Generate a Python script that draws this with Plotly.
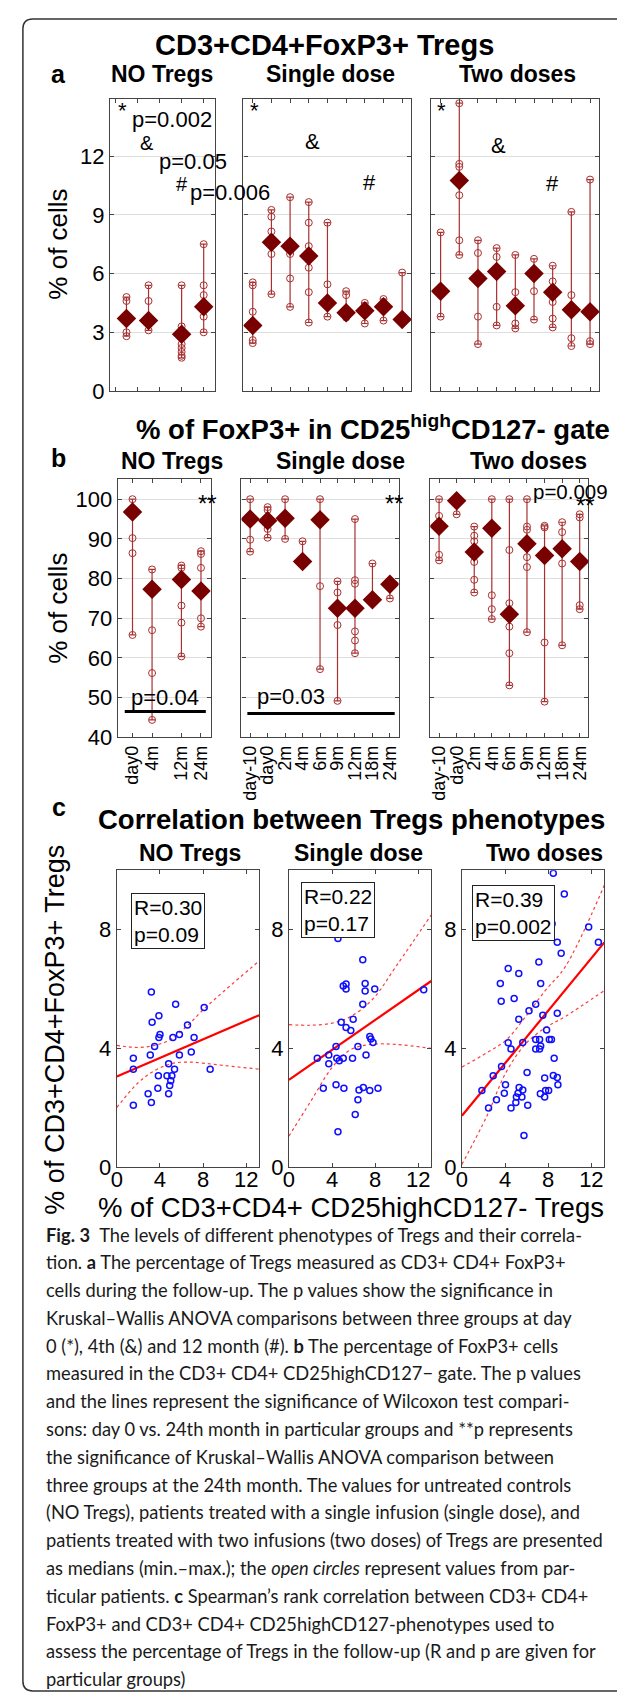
import plotly.graph_objects as go

W, H = 625, 1698

# ---------------- data ----------------
TIMELINE = ["day-10", "day0", "2m", "4m", "6m", "9m", "12m", "18m", "24m"]
NO_TIMES = ["day0", "4m", "12m", "24m"]
GROUP_TITLES = ["NO Tregs", "Single dose", "Two doses"]

# Panel a: % CD3+CD4+FoxP3+ (medians + individual patients)
A_NO_MED = [3.7, 3.6, 2.9, 4.3]
A_NO_PTS = [[4.8, 4.6, 3.0, 2.8], [5.4, 4.6, 3.1], [5.4, 3.3, 2.4, 2.2, 2.0, 1.8, 1.7],
            [7.5, 5.4, 4.9, 3.8, 3.0]]
A_SD_MED = [3.35, 7.6, 7.4, 6.9, 4.5, 4.0, 4.1, 4.3, 3.65]
A_SD_PTS = [[5.55, 5.4, 4.05, 2.6, 2.45], [9.25, 8.9, 8.15, 7.0, 4.95], [9.9, 7.0, 5.75, 4.3],
            [9.65, 8.6, 7.4, 6.3, 5.05, 3.5], [8.6, 5.45, 3.8], [5.1, 4.9, 3.75], [4.5, 3.45],
            [4.7, 3.6], [6.05, 3.5]]
A_TD_MED = [5.1, 10.75, 5.75, 6.1, 4.35, 6.0, 5.05, 4.15, 4.05]
A_TD_PTS = [[8.1, 3.8], [14.7, 11.6, 11.45, 10.0, 7.7, 6.95], [7.7, 7.05, 3.8, 2.4],
            [7.3, 6.85, 4.3, 3.35], [6.95, 5.05, 3.45, 3.2], [6.75, 5.1, 3.65],
            [6.4, 5.6, 4.55, 3.7, 3.25], [9.15, 4.9, 2.7, 2.3], [10.8, 2.55, 2.4]]

# Panel b: % FoxP3+ in CD25highCD127- gate
B_NO_MED = [96.8, 77.3, 79.8, 76.9]
B_NO_PTS = [[100, 90.2, 86.4, 65.8], [82.3, 67.0, 56.2, 44.4], [83.3, 82.7, 73.2, 68.9, 60.4],
            [86.9, 86.2, 82.7, 70.0, 67.9]]
B_SD_MED = [95.0, 94.6, 95.2, 84.3, 94.8, 72.5, 72.5, 74.7, 78.6]
B_SD_PTS = [[100, 89.8, 86.8], [98.0, 97.3, 92.5, 90.3], [100, 90.0], [89.4],
            [100, 78.1, 57.2], [79.3, 76.5, 68.3, 49.2], [95.0, 79.6, 78.7, 66.7, 64.4, 61.2],
            [83.8], [75.0]]
B_TD_MED = [93.2, 99.6, 86.7, 92.7, 71.0, 88.8, 85.8, 87.5, 84.3]
B_TD_PTS = [[100, 95.8, 86.0, 84.6], [96.2], [93.1, 90.8, 89.4, 84.2, 79.7, 76.5],
            [100, 75.8, 72.3, 69.8], [100, 87.2, 73.8, 67.9, 61.2, 53.1],
            [100, 93.1, 92.3, 85.4, 82.9, 66.5], [93.3, 92.9, 63.9, 49.0],
            [94.2, 91.7, 83.8, 63.2], [96.2, 95.4, 73.3, 72.3]]

# Panel c: correlation scatter
C_NO_X = [3.2, 5.45, 8.1, 3.9, 3.27, 6.55, 5.8, 4.0, 3.9, 5.2, 7.16, 3.5, 1.53, 3.1, 6.9,
          5.8, 4.8, 1.53, 5.35, 8.65, 3.85, 4.65, 5.1, 5.0, 4.9, 3.8, 2.9, 4.8, 3.2, 1.53]
C_NO_Y = [5.9, 5.49, 5.38, 5.1, 4.88, 4.79, 4.47, 4.47, 4.37, 4.37, 4.37, 4.06, 3.67, 3.78, 3.88,
          3.78, 3.48, 3.3, 3.3, 3.3, 3.08, 3.08, 3.08, 2.91, 2.75, 2.66, 2.47, 2.47, 2.18, 2.08]
C_SD_X = [4.85, 5.96, 5.3, 5.74, 7.5, 7.6, 7.8, 4.37, 6.4, 3.7, 7.15, 2.63, 4.44, 5.04, 5.9,
          4.67, 3.7, 4.37, 3.19, 5.1, 6.5, 6.9, 7.5, 8.26, 6.4, 6.15, 4.55, 6.85,
          4.55, 6.85, 5.04, 5.3, 5.3, 7.07, 7.07, 7.96, 12.5]
C_SD_Y = [4.88, 4.98, 4.7, 4.6, 4.4, 4.32, 4.2, 4.06, 4.06, 3.78, 3.78, 3.67, 3.67, 3.67, 3.67,
          3.58, 3.48, 2.77, 2.66, 2.66, 2.6, 2.68, 2.58, 2.66, 2.27, 1.77, 1.19, 5.49,
          7.7, 6.99, 6.1, 6.17, 6.0, 6.19, 5.93, 6.0, 5.98]
C_TD_X = [3.64, 4.84, 6.84, 6.22, 5.27, 8.84, 7.5, 7.85, 6.84, 4.29, 5.64, 7.2, 8.1, 8.3, 4.55,
          6.84, 7.2, 7.3, 8.55, 3.67, 6.04, 2.9, 8.47, 8.84, 7.67, 8.9, 4.04, 5.3, 5.2, 5.64,
          1.85, 7.75, 8.04, 7.27, 7.67, 3.93, 5.05, 5.56, 3.2, 5.0, 6.1, 2.47, 4.55, 5.75,
          8.47, 9.49, 8.36, 11.75, 8.84, 12.65, 9.2, 7.13, 4.29, 5.27, 3.56, 7.3]
C_TD_Y = [5.59, 5.68, 5.49, 5.27, 4.98, 5.18, 5.12, 4.62, 4.3, 4.19, 4.2, 4.3, 4.3, 4.3, 3.98,
          3.98, 3.98, 4.08, 3.67, 3.39, 3.19, 3.08, 3.09, 3.02, 3.0, 2.77, 2.77, 2.68, 2.49, 2.6,
          2.58, 2.58, 2.58, 2.47, 2.36, 2.49, 2.36, 2.36, 2.27, 2.18, 2.08, 1.99, 1.99, 1.06,
          9.9, 9.2, 8.2, 8.09, 7.58, 7.58, 7.21, 6.91, 6.69, 6.52, 6.19, 6.19]
C_STATS = ["R=0.30<br>p=0.09", "R=0.22<br>p=0.17", "R=0.39<br>p=0.002"]

# fitted lines and confidence bands
FIT_X = [0, 13.2]
C_NO_FIT = [3.05, 5.12]
C_SD_FIT = [2.94, 6.27]
C_TD_FIT = [1.73, 7.57]
C_NO_BAND_X = [0, 2, 3.5, 5, 6.5, 8, 10, 13.2]
C_NO_UP = [4.1, 4.03, 4.1, 4.3, 4.75, 5.3, 5.95, 6.95]
C_NO_LO = [2.01, 2.85, 3.25, 3.48, 3.54, 3.5, 3.42, 3.3]
C_SD_BAND_X = [0, 2, 4, 5.7, 7.7, 10, 13.2]
C_SD_UP = [4.8, 4.78, 4.85, 5.07, 5.63, 6.8, 8.5]
C_SD_LO = [1.04, 2.2, 3.35, 3.95, 4.14, 4.13, 4.0]
C_TD_BAND_X = [0, 2.3, 4.1, 5.9, 7.75, 9.56, 13.2]
C_TD_UP = [3.37, 3.85, 4.28, 5.07, 5.96, 6.74, 9.5]
C_TD_LO = [0.09, 1.71, 3.2, 4.15, 4.7, 5.07, 5.95]

# ---------------- helpers ----------------
def fx(x):
    return x / W


def fy(y):
    return 1 - y / H


FONT = "Liberation Sans, Arial, sans-serif"
DARK = "#780000"
RED = "#A83030"

fig = go.Figure()
layout = dict(width=W, height=H, margin=dict(l=0, r=0, t=0, b=0),
              paper_bgcolor="white", plot_bgcolor="white", showlegend=False,
              font=dict(family=FONT, color="black"))


def axis_base(**kw):
    d = dict(showline=True, linecolor="#444", linewidth=1.2, mirror="allticks",
             ticks="inside", ticklen=4, tickcolor="#444", zeroline=False, showgrid=False,
             tickfont=dict(family=FONT, size=22, color="black"), fixedrange=True)
    d.update(kw)
    return d


def add_axes(n, xbox, ybox, xkw, ykw):
    xk = "xaxis" if n == 1 else f"xaxis{n}"
    yk = "yaxis" if n == 1 else f"yaxis{n}"
    xr = "x" if n == 1 else f"x{n}"
    yr = "y" if n == 1 else f"y{n}"
    layout[xk] = axis_base(domain=[fx(xbox[0]), fx(xbox[1])], anchor=yr, **xkw)
    layout[yk] = axis_base(domain=[fy(ybox[1]), fy(ybox[0])], anchor=xr, **ykw)
    return xr, yr


def add_time_group(xr, yr, times, med, pts, yfloor):
    px_, py_ = [], []
    for t, p in zip(times, pts):
        px_ += [t] * len(p)
        py_ += p
    # invisible trace so every timeline slot is registered on the axis
    fig.add_trace(go.Scatter(x=TIMELINE, y=[yfloor] * len(TIMELINE), mode="markers",
                             marker=dict(opacity=0), hoverinfo="skip", xaxis=xr, yaxis=yr))
    fig.add_trace(go.Scatter(x=px_, y=py_, mode="markers", xaxis=xr, yaxis=yr,
                             marker=dict(symbol="circle-open", size=7, color=RED,
                                         line=dict(width=1, color=RED))))
    hi = [max(p + [m]) - m for p, m in zip(pts, med)]
    lo = [m - min(p + [m]) for p, m in zip(pts, med)]
    fig.add_trace(go.Scatter(x=times, y=med, mode="markers", xaxis=xr, yaxis=yr,
                             marker=dict(symbol="diamond", size=15, color=DARK),
                             error_y=dict(type="data", symmetric=False, array=hi, arrayminus=lo,
                                          color=RED, thickness=1.2, width=3)))


annotations = []
shapes = []


def ann(text, x, y, size=22, bold=False, xanchor="center", yanchor="middle", angle=0,
        family=FONT, color="black", **kw):
    if bold:
        text = f"<b>{text}</b>"
    annotations.append(dict(text=text, x=fx(x), y=fy(y), xref="paper", yref="paper",
                            showarrow=False, xanchor=xanchor, yanchor=yanchor,
                            textangle=angle, font=dict(family=family, size=size, color=color),
                            **kw))


# ---------------- panel a ----------------
BOX_A = [(97, 203), (232, 402), (422, 592)]
A_Y = (92, 386)
a_sets = [(NO_TIMES, A_NO_MED, A_NO_PTS), (TIMELINE, A_SD_MED, A_SD_PTS),
          (TIMELINE, A_TD_MED, A_TD_PTS)]
for i, (times, med, pts) in enumerate(a_sets):
    xr, yr = add_axes(1 + i, BOX_A[i], A_Y,
                      dict(type="category", categoryorder="array", categoryarray=TIMELINE,
                           range=[-0.5, 9.0] if i == 0 else [-0.5, 8.5], showticklabels=False),
                      dict(range=[0, 14.9], tickvals=[0, 3, 6, 9, 12], showgrid=True,
                           gridcolor="#dedede", showticklabels=(i == 0)))
    add_time_group(xr, yr, times, med, pts, 0)

# ---------------- panel b ----------------
BOX_B = [(105, 199), (230, 389), (421, 581)]
B_Y = (475, 735)
b_sets = [(NO_TIMES, B_NO_MED, B_NO_PTS), (TIMELINE, B_SD_MED, B_SD_PTS),
          (TIMELINE, B_TD_MED, B_TD_PTS)]
for i, (times, med, pts) in enumerate(b_sets):
    xr, yr = add_axes(4 + i, BOX_B[i], B_Y,
                      dict(type="category", categoryorder="array", categoryarray=TIMELINE,
                           range=[-0.5, 9.0] if i == 0 else [-0.5, 8.5],
                           tickmode="array", tickvals=times, ticktext=times, tickangle=-90,
                           tickfont=dict(family=FONT, size=18, color="black")),
                      dict(range=[40, 105], tickvals=[40, 50, 60, 70, 80, 90, 100], showgrid=True,
                           gridcolor="#dedede", showticklabels=(i == 0)))
    add_time_group(xr, yr, times, med, pts, 40)

# ---------------- panel c ----------------
BOX_C = [(104, 248), (278, 422), (453, 597)]
C_Y = (869, 1168)
c_sets = [(C_NO_X, C_NO_Y, C_NO_FIT, C_NO_BAND_X, C_NO_UP, C_NO_LO),
          (C_SD_X, C_SD_Y, C_SD_FIT, C_SD_BAND_X, C_SD_UP, C_SD_LO),
          (C_TD_X, C_TD_Y, C_TD_FIT, C_TD_BAND_X, C_TD_UP, C_TD_LO)]
for i, (cx, cy, fit, bx, up, lo) in enumerate(c_sets):
    xr, yr = add_axes(7 + i, BOX_C[i], C_Y,
                      dict(range=[0, 13.2], tickvals=[0, 4, 8, 12], ticklabelstandoff=-8),
                      dict(range=[0, 10], tickvals=[0, 4, 8]))
    for band in (up, lo):
        fig.add_trace(go.Scatter(x=bx, y=band, mode="lines", line_shape="spline", xaxis=xr,
                                 yaxis=yr, line=dict(color="#FF3B3B", width=1.2, dash="dot"),
                                 hoverinfo="skip"))
    fig.add_trace(go.Scatter(x=FIT_X, y=fit, mode="lines", xaxis=xr, yaxis=yr,
                             line=dict(color="#FF0000", width=2.2)))
    fig.add_trace(go.Scatter(x=cx, y=cy, mode="markers", xaxis=xr, yaxis=yr,
                             marker=dict(symbol="circle-open", size=6, color="#1010FF",
                                         line=dict(width=1.5, color="#1010FF"))))

# ---------------- text ----------------
ann("CD3+CD4+FoxP3+ Tregs", 314, 37, size=29, bold=True)
ann("a", 45, 67, size=25, bold=True)
for t, cxp in zip(GROUP_TITLES, [150, 320, 509]):
    ann(t, cxp, 67, size=23, bold=True)
ann("% of cells", 45, 238, size=26, angle=-90)
ann("*", 110, 103, size=22)
ann("p=0.002", 117, 112, size=22, xanchor="left")
ann("&", 135, 136, size=20)
ann("p=0.05", 145, 155, size=22, xanchor="left")
ann("#", 170, 177, size=20)
ann("p=0.006", 176, 186, size=22, xanchor="left")
ann("*", 243, 103, size=22)
ann("&", 302, 135, size=22)
ann("#", 360, 176, size=22)
ann("*", 432, 103, size=22)
ann("&", 490, 139, size=22)
ann("#", 545, 177, size=22)

ann("% of FoxP3+ in CD25<sup>high</sup>CD127- gate", 363, 423, size=27.5, bold=True)
ann("b", 45, 453, size=25, bold=True)
for t, cxp in zip(GROUP_TITLES, [160, 330, 520]):
    ann(t, cxp, 456, size=23, bold=True)
ann("% of cells", 45, 605, size=26, angle=-90)
ann("**", 196, 499, size=24)
ann("**", 385, 499, size=24)
ann("**", 578, 501, size=24)
ann("p=0.009", 563, 487, size=20.5)
ann("p=0.04", 153, 695, size=22)
ann("p=0.03", 280, 694, size=22)
shapes.append(dict(type="line", xref="paper", yref="paper", x0=fx(112), x1=fx(194),
                   y0=fy(709), y1=fy(709), line=dict(color="black", width=3)))
shapes.append(dict(type="line", xref="paper", yref="paper", x0=fx(236), x1=fx(385),
                   y0=fy(711), y1=fy(711), line=dict(color="black", width=3)))

ann("c", 46, 805, size=25, bold=True)
ann("Correlation between Tregs phenotypes", 341, 818, size=27.5, bold=True)
for t, cxp in zip(GROUP_TITLES, [178, 348, 537]):
    ann(t, cxp, 852, size=23, bold=True)
for s, (bx0, by0) in zip(C_STATS, [(118, 892), (290, 881), (463, 884)]):
    ann(s, bx0, by0, size=21, xanchor="left", yanchor="top", align="left",
        bordercolor="#222", borderwidth=1, borderpad=2, bgcolor="white")
ann("% of CD3+CD4+FoxP3+ Tregs", 42, 1030, size=27, angle=-90)
ann("% of CD3+CD4+ CD25highCD127- Tregs", 341, 1209, size=27.5)

# ---------------- caption ----------------
CAPTION = [
    "<b>Fig. 3</b>\u2002The levels of different phenotypes of Tregs and their correla-",
    "tion. <b>a</b> The percentage of Tregs measured as CD3+ CD4+ FoxP3+",
    "cells during the follow-up. The p values show the significance in",
    "Kruskal–Wallis ANOVA comparisons between three groups at day",
    "0 (*), 4th (&) and 12 month (#). <b>b</b> The percentage of FoxP3+ cells",
    "measured in the CD3+ CD4+ CD25highCD127− gate. The p values",
    "and the lines represent the significance of Wilcoxon test compari-",
    "sons: day 0 vs. 24th month in particular groups and **p represents",
    "the significance of Kruskal–Wallis ANOVA comparison between",
    "three groups at the 24th month. The values for untreated controls",
    "(NO Tregs), patients treated with a single infusion (single dose), and",
    "patients treated with two infusions (two doses) of Tregs are presented",
    "as medians (min.–max.); the <i>open circles</i> represent values from par-",
    "ticular patients. <b>c</b> Spearman’s rank correlation between CD3+ CD4+",
    "FoxP3+ and CD3+ CD4+ CD25highCD127-phenotypes used to",
    "assess the percentage of Tregs in the follow-up (R and p are given for",
    "particular groups)",
]
for k, line in enumerate(CAPTION):
    ann(line, 30, 1236 + k * 28.0, size=18.3, xanchor="left",
        family="Lato, Open Sans, sans-serif", color="#1a1a1a")

# rounded frame
x0, y0, x1, y1, r = 9, 11, 640, 1696, 10
path = (f"M {fx(x1)},{fy(y0)} L {fx(x0 + r)},{fy(y0)} Q {fx(x0)},{fy(y0)} {fx(x0)},{fy(y0 + r)} "
        f"L {fx(x0)},{fy(y1 - r)} Q {fx(x0)},{fy(y1)} {fx(x0 + r)},{fy(y1)} L {fx(x1)},{fy(y1)}")
shapes.append(dict(type="path", xref="paper", yref="paper", path=path,
                   line=dict(color="#333", width=1.5)))

layout["annotations"] = annotations
layout["shapes"] = shapes
fig.update_layout(**layout)
fig.write_html("out.html")
